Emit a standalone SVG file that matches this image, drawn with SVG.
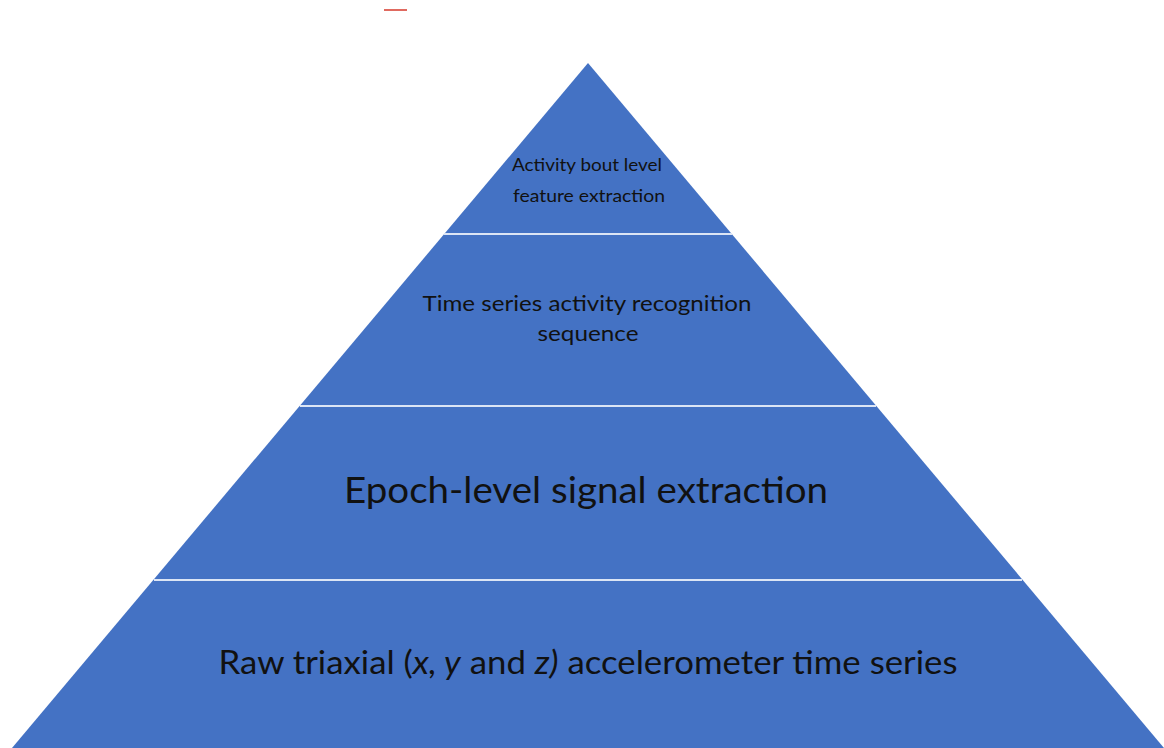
<svg xmlns="http://www.w3.org/2000/svg" width="1164" height="748" viewBox="0 0 1164 748">
<style>
.lvl{fill:#4472C4;}
.sep{stroke:#DCE5F5;stroke-width:2;}
.t{font-family:Lato,"Open Sans","Liberation Sans",sans-serif;fill:#111;text-anchor:middle;}
</style>
<rect width="1164" height="748" fill="#fff"/>
<line x1="384" y1="10" x2="407" y2="10" stroke="#E06A60" stroke-width="2"/>
<g id="pyramid">
<polygon class="lvl" points="588,63 1164,748 12,748"/>
</g>
<g id="connectors">
<line class="sep" x1="444" y1="234" x2="732" y2="234"/>
<line class="sep" x1="300" y1="406" x2="876" y2="406"/>
<line class="sep" x1="154" y1="580" x2="1022" y2="580"/>
</g>
<g id="level1">
<text class="t" x="587" y="171" font-size="17" textLength="150" lengthAdjust="spacingAndGlyphs">Activity bout level</text>
<text class="t" x="589" y="202" font-size="17" textLength="152" lengthAdjust="spacingAndGlyphs">feature extraction</text>
</g>
<g id="level2">
<text class="t" x="587" y="311" font-size="22" textLength="329" lengthAdjust="spacingAndGlyphs">Time series activity recognition</text>
<text class="t" x="588" y="341" font-size="22" textLength="101" lengthAdjust="spacingAndGlyphs">sequence</text>
</g>
<g id="level3">
<text class="t" x="586" y="503" font-size="36" textLength="484" lengthAdjust="spacingAndGlyphs">Epoch-level signal extraction</text>
</g>
<g id="level4">
<text class="t" x="588" y="674" font-size="32" textLength="739" lengthAdjust="spacingAndGlyphs">Raw triaxial (<tspan font-style="italic">x, y</tspan> and <tspan font-style="italic">z)</tspan> accelerometer time series</text>
</g>
</svg>
